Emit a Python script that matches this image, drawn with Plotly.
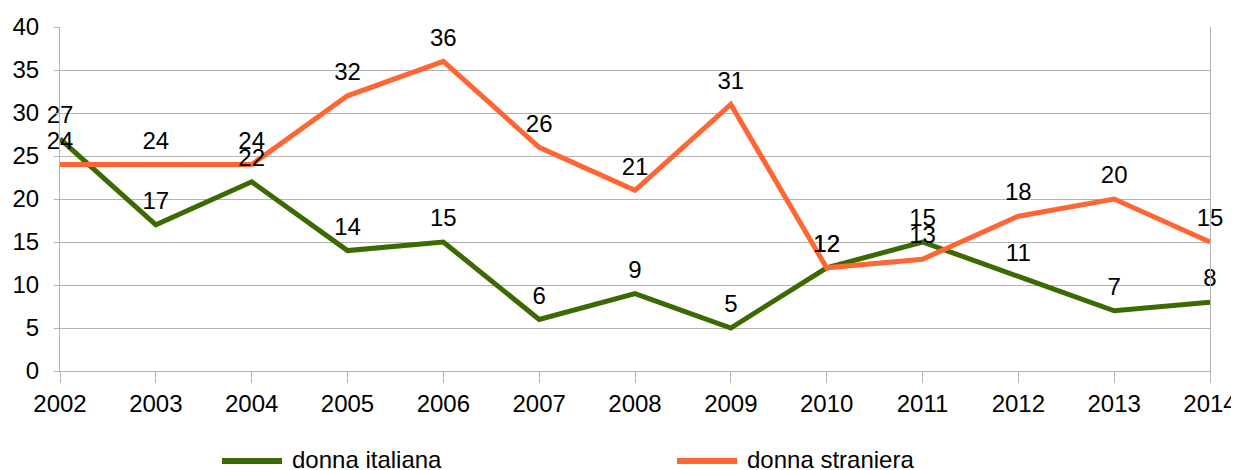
import plotly.graph_objects as go

years = [2002, 2003, 2004, 2005, 2006, 2007, 2008, 2009, 2010, 2011, 2012, 2013, 2014]
italiana = [27, 17, 22, 14, 15, 6, 9, 5, 12, 15, 11, 7, 8]
straniera = [24, 24, 24, 32, 36, 26, 21, 31, 12, 13, 18, 20, 15]
series_names = ["donna italiana", "donna straniera"]
colors = ["#3b6a00", "#ff6633"]

# plot area in window pixels: x 60..1210, y 27..371
def px(sx):
    return (sx - 60) / 1150

def py(sy):
    return (371 - sy) / 344

fig = go.Figure()
# lines first
for name, vals, col in zip(series_names, [italiana, straniera], colors):
    fig.add_trace(go.Scatter(
        x=years, y=vals, name=name, mode="lines",
        line=dict(color=col, width=5),
        cliponaxis=False, showlegend=False,
    ))
# data labels on top of all lines
for name, vals in zip(series_names, [italiana, straniera]):
    fig.add_trace(go.Scatter(
        x=years, y=vals, name=name, mode="markers+text",
        marker=dict(size=14, color="rgba(0,0,0,0)"),
        text=[str(v) for v in vals], textposition="top center",
        textfont=dict(family="Liberation Sans", size=24, color="#000000"),
        cliponaxis=False, showlegend=False, hoverinfo="skip",
    ))

# legend (drawn manually to match the long legend line keys)
legend_pos = [(222, 282, 290), (677, 737, 745)]
for (x0, x1, xt), name, col in zip(legend_pos, series_names, colors):
    fig.add_shape(type="line", xref="paper", yref="paper",
                  x0=px(x0), x1=px(x1), y0=py(461), y1=py(461),
                  line=dict(color=col, width=6))
    fig.add_annotation(xref="paper", yref="paper", x=px(xt), y=py(459),
                       xanchor="left", yanchor="middle", showarrow=False,
                       text=name, font=dict(family="Liberation Sans", size=24, color="#000000"))

fig.update_layout(
    width=1231, height=462,
    margin=dict(l=52, r=29, t=19, b=99, autoexpand=False),
    paper_bgcolor="white", plot_bgcolor="white",
    font=dict(family="Liberation Sans", size=24, color="#000000"),
    showlegend=False,
    xaxis=dict(range=[2002, 2014], tickmode="array", tickvals=years,
               ticktext=[str(y) for y in years], showgrid=False,
               showline=True, linecolor="#b3b3b3", linewidth=1,
               ticks="outside", ticklen=11, tickcolor="#b3b3b3", zeroline=False),
    yaxis=dict(range=[0, 40], dtick=5, showgrid=True, gridcolor="#b3b3b3",
               showline=True, linecolor="#b3b3b3", mirror=True,
               ticks="outside", ticklen=5, tickcolor="#b3b3b3", zeroline=False,
               ticklabelstandoff=10),
)
fig.write_html("out.html")
